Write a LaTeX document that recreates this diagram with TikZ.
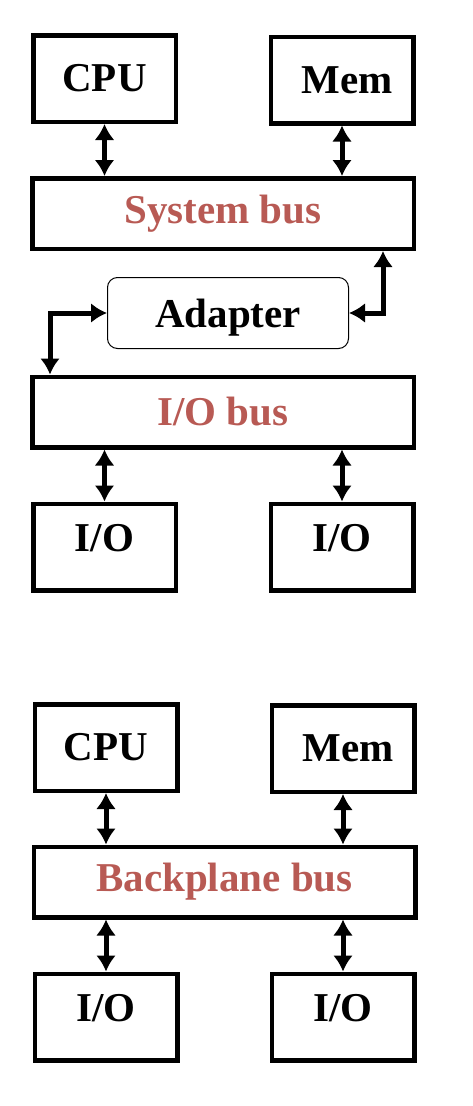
\documentclass[tikz,border=0pt]{standalone}
\usepackage{fontspec}
\setmainfont{Liberation Serif}
\usetikzlibrary{arrows.meta}
\definecolor{busred}{RGB}{184,90,84}
\begin{document}
\begin{tikzpicture}[x=1pt,y=-1pt,
    every node/.style={inner sep=0pt, font=\fontsize{41}{49}\selectfont\bfseries},
    box/.style={draw, line width=4.5pt, minimum width=142.5pt, minimum height=86.5pt},
    bus/.style={draw, line width=4.5pt, minimum width=381.5pt, minimum height=70.5pt, text=busred},
    adapterbox/.style={draw, line width=1pt, rounded corners=10pt, minimum width=241pt, minimum height=71pt},
    link/.style={line width=5pt, {Latex[length=16pt,width=20pt]}-{Latex[length=16pt,width=20pt]}}]
    \useasboundingbox (0,0) rectangle (472,1106);
    \node[box] (cpuA) at (104.5,78.5) {CPU};
    \node[box] (memA) at (342,80) {\hspace*{10pt}Mem};
    \node[bus] (sysbus) at (223,213.5) {System bus};
    \node[adapterbox, text depth=0pt] (adapter) at (228,313) {Adapter};
    \node[bus] (iobus) at (223,412) {I/O bus};
    \node[box, text depth=18pt] (ioA) at (104.5,547) {I/O};
    \node[box, text depth=18pt] (ioB) at (342,547) {I/O};
    \node[box] (cpuB) at (106,747.5) {CPU};
    \node[box] (memB) at (343,748.5) {\hspace*{10pt}Mem};
    \node[bus] (backbus) at (224.5,882) {Backplane bus};
    \node[box, text depth=18pt] (ioC) at (106,1017) {I/O};
    \node[box, text depth=18pt] (ioD) at (343,1017) {I/O};
    \draw[link] (cpuA.south) -- (cpuA.south |- sysbus.north);
    \draw[link] (memA.south) -- (memA.south |- sysbus.north);
    \draw[link] (adapter.east) -| ([xshift=-33pt]sysbus.south east);
    \draw[link] (adapter.west) -| ([xshift=20pt]iobus.north west);
    \draw[link] (iobus.south -| ioA.north) -- (ioA.north);
    \draw[link] (iobus.south -| ioB.north) -- (ioB.north);
    \draw[link] (cpuB.south) -- (cpuB.south |- backbus.north);
    \draw[link] (memB.south) -- (memB.south |- backbus.north);
    \draw[link] (backbus.south -| ioC.north) -- (ioC.north);
    \draw[link] (backbus.south -| ioD.north) -- (ioD.north);
\end{tikzpicture}
\end{document}
